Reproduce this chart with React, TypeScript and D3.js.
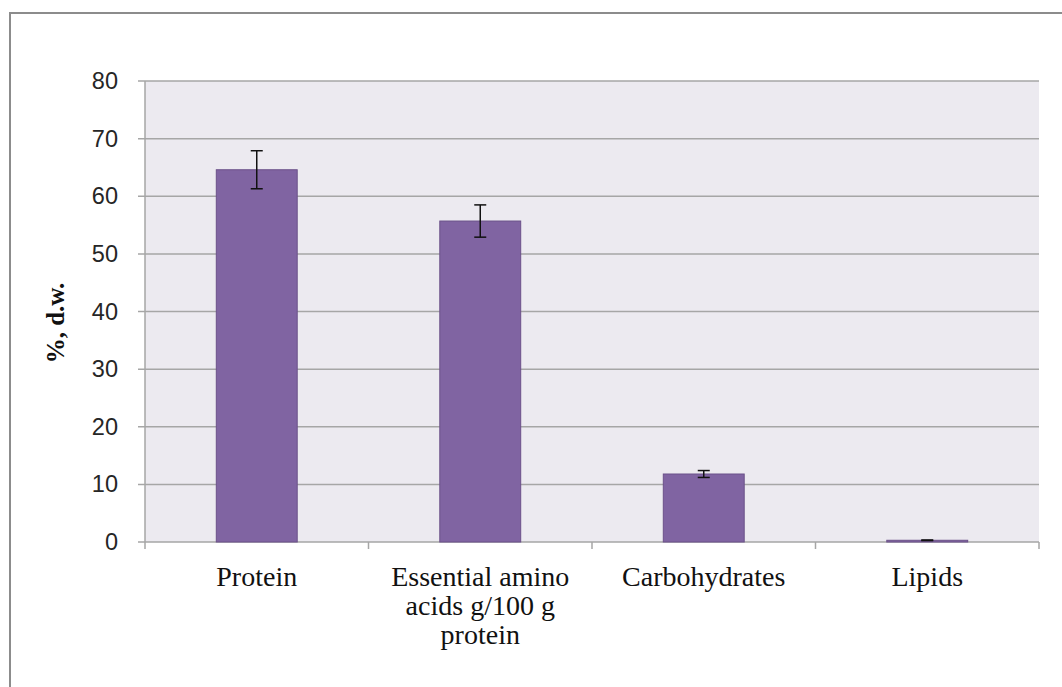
import React from "react";
import * as d3 from "d3";

const categories: string[][] = [
  ["Protein"],
  ["Essential amino", "acids g/100 g", "protein"],
  ["Carbohydrates"],
  ["Lipids"],
];
const values: number[] = [64.6, 55.7, 11.8, 0.3];
const errors: number[] = [3.3, 2.8, 0.6, 0.05];
const yTicks: number[] = [0, 10, 20, 30, 40, 50, 60, 70, 80];
const yTitle = "%, d.w.";

const W = 1062;
const H = 687;
const plot = { left: 145, top: 81, right: 1039, bottom: 542 };

export default function App() {
  const x = d3
    .scaleBand<number>()
    .domain(categories.map((_, i) => i))
    .range([plot.left, plot.right])
    .paddingInner(0.638)
    .paddingOuter(0.319);
  const band = d3
    .scaleBand<number>()
    .domain(categories.map((_, i) => i))
    .range([plot.left, plot.right]);
  const y = d3.scaleLinear().domain([0, 80]).range([plot.bottom, plot.top]);

  const boundaries = d3.range(categories.length + 1).map((i) => plot.left + i * band.step());

  return (
    <svg
      width={W}
      height={H}
      style={{ position: "absolute", left: 0, top: 0, background: "#fff" }}
    >
      <rect x={10} y={13} width={W + 20} height={H + 20} fill="#fff" stroke="#8c8c8c" strokeWidth={2} />
      <rect
        x={plot.left}
        y={plot.top}
        width={plot.right - plot.left}
        height={plot.bottom - plot.top}
        fill="#ECEAF0"
      />
      {yTicks.map((t) => (
        <g key={t}>
          <line
            x1={plot.left - 7}
            x2={plot.right}
            y1={y(t)}
            y2={y(t)}
            stroke="#A6A6A6"
            strokeWidth={1.5}
          />
          <text
            x={118}
            y={y(t)}
            textAnchor="end"
            dominantBaseline="central"
            fontFamily="'Liberation Sans', Arial, sans-serif"
            fontSize={23.5}
            fill="#262626"
          >
            {t}
          </text>
        </g>
      ))}
      <line x1={plot.left} x2={plot.left} y1={plot.top} y2={plot.bottom} stroke="#A6A6A6" strokeWidth={1.5} />
      {boundaries.map((bx, i) => (
        <line key={i} x1={bx} x2={bx} y1={plot.bottom} y2={plot.bottom + 7} stroke="#A6A6A6" strokeWidth={1.5} />
      ))}
      {values.map((v, i) => {
        const bx = x(i)!;
        const bw = x.bandwidth();
        const cx = bx + bw / 2;
        return (
          <g key={i}>
            <rect
              x={bx}
              y={y(v)}
              width={bw}
              height={Math.max(0, y(0) - y(v))}
              fill="#8064A2"
              stroke="#6B5189"
              strokeWidth={1}
            />
            <line x1={cx} x2={cx} y1={y(v + errors[i])} y2={y(v - errors[i])} stroke="#111" strokeWidth={1.5} />
            <line x1={cx - 6} x2={cx + 6} y1={y(v + errors[i])} y2={y(v + errors[i])} stroke="#111" strokeWidth={1.5} />
            <line x1={cx - 6} x2={cx + 6} y1={y(v - errors[i])} y2={y(v - errors[i])} stroke="#111" strokeWidth={1.5} />
          </g>
        );
      })}
      {categories.map((lines, i) => (
        <text
          key={i}
          x={band(i)! + band.bandwidth() / 2}
          y={586}
          textAnchor="middle"
          fontFamily="'Liberation Serif', 'Times New Roman', serif"
          fontSize={28}
          fill="#111"
        >
          {lines.map((l, j) => (
            <tspan key={j} x={band(i)! + band.bandwidth() / 2} y={586 + j * 29}>
              {l}
            </tspan>
          ))}
        </text>
      ))}
      <text
        transform={`translate(64, 323) rotate(-90)`}
        textAnchor="middle"
        fontFamily="'Liberation Serif', 'Times New Roman', serif"
        fontWeight="bold"
        fontSize={25}
        fill="#111"
      >
        {yTitle}
      </text>
    </svg>
  );
}
